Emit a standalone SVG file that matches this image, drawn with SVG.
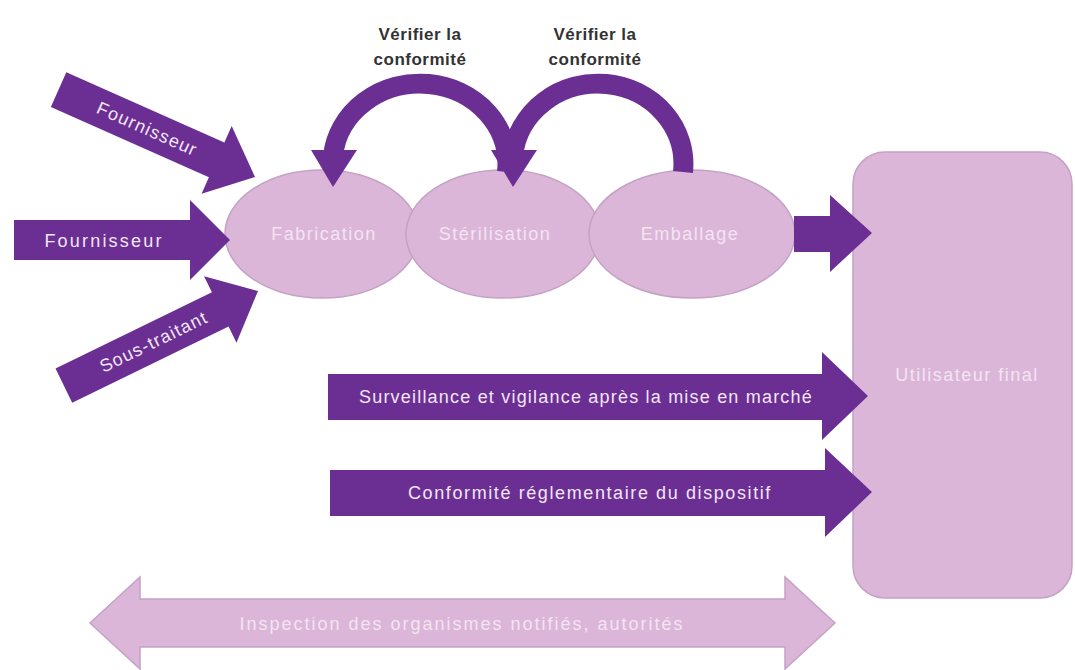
<svg xmlns="http://www.w3.org/2000/svg" width="1075" height="670" viewBox="0 0 1075 670">
<style>
.dark{fill:#6b2f94;}
.light{fill:#dbb6d9;stroke:#c3a2c4;stroke-width:1.5;}
.arc{fill:none;stroke:#6b2f94;stroke-width:20;}
.tl{font-family:"Liberation Sans",Arial,sans-serif;font-size:18px;letter-spacing:1.5px;fill:#f3e4f2;text-anchor:middle;}
.td{font-family:"Liberation Sans",Arial,sans-serif;font-size:18px;letter-spacing:1.2px;fill:#f1e6f4;text-anchor:middle;}
.tk{font-family:"Liberation Sans",Arial,sans-serif;font-size:17px;letter-spacing:0.5px;font-weight:bold;fill:#333333;text-anchor:middle;}
</style>
<rect width="1075" height="670" fill="#ffffff"/>
<g id="labels-top">
<text class="tk" x="420" y="40">Vérifier la</text>
<text class="tk" x="420" y="65">conformité</text>
<text class="tk" x="595" y="40">Vérifier la</text>
<text class="tk" x="595" y="65">conformité</text>
</g>
<g id="node-fabrication">
<ellipse class="light" cx="322" cy="234" rx="97" ry="64"/>
<text class="tl" x="324" y="240">Fabrication</text>
</g>
<g id="node-sterilisation">
<ellipse class="light" cx="503" cy="234" rx="97" ry="64"/>
<text class="tl" x="495" y="240">Stérilisation</text>
</g>
<g id="node-emballage">
<ellipse class="light" cx="692" cy="234" rx="103" ry="64"/>
<text class="tl" x="690" y="240">Emballage</text>
</g>
<g id="node-utilisateur">
<rect class="light" x="853" y="152" width="219" height="446" rx="32"/>
<text class="tl" x="967" y="381">Utilisateur final</text>
</g>
<g id="node-inspection">
<polygon class="light" points="90,623 140,577 140,599 785,599 785,577 835,623 785,669 785,647 140,647 140,669"/>
<text class="tl" x="462" y="630" style="letter-spacing:2px">Inspection des organismes notifiés, autorités</text>
</g>
<g id="connectors">
<g id="arrow-fournisseur-1" transform="translate(255,177) rotate(24)">
<polygon class="dark" points="-215,-19 -42,-19 -42,-37 0,0 -42,37 -42,19 -215,19"/>
<text class="td" x="-118" y="6">Fournisseur</text>
</g>
<g id="arrow-fournisseur-2">
<polygon class="dark" points="14,220 190,220 190,200 230,240 190,280 190,260 14,260"/>
<text class="td" x="104" y="247" style="letter-spacing:2.2px">Fournisseur</text>
</g>
<g id="arrow-soustraitant" transform="translate(258,291) rotate(-26)">
<polygon class="dark" points="-216,-19 -42,-19 -42,-37 0,0 -42,37 -42,19 -216,19"/>
<text class="td" x="-116" y="6">Sous-traitant</text>
</g>
<path class="arc" d="M 507 172 A 87 80 0 0 0 333 156"/>
<polygon class="dark" points="311,150 357,150 333,187"/>
<path class="arc" d="M 683 172 A 85 80 0 0 0 513 156"/>
<polygon class="dark" points="491,150 537,150 513,187"/>
<polygon class="dark" points="794,216 830,216 830,195 872,233 830,272 830,252 794,252"/>
<g id="arrow-surveillance">
<polygon class="dark" points="328,374 822,374 822,352 868,396 822,440 822,420 328,420"/>
<text class="td" x="586" y="403">Surveillance et vigilance après la mise en marché</text>
</g>
<g id="arrow-conformite">
<polygon class="dark" points="330,470 825,470 825,448 872,492 825,537 825,516 330,516"/>
<text class="td" x="590" y="499" style="letter-spacing:1.6px">Conformité réglementaire du dispositif</text>
</g>
</g>
</svg>
